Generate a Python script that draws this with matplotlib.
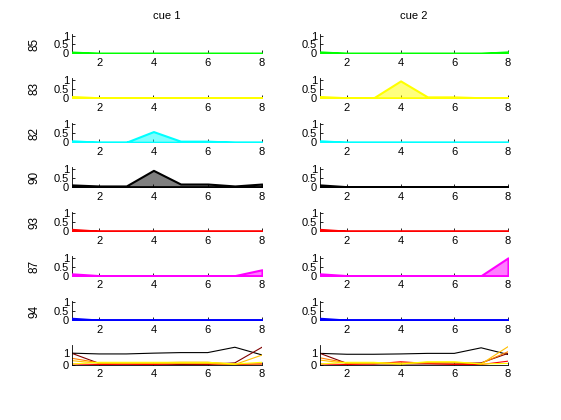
import matplotlib
matplotlib.use('Agg')
import matplotlib.pyplot as plt

plt.rcParams['font.family'] = ['Liberation Sans', 'DejaVu Sans']

# x positions shared by every panel
x = [1, 2, 3, 4, 5, 6, 7, 8]

# row labels and colours (top to bottom)
row_labels = ['85', '83', '82', '90', '93', '87', '94']
row_colors = [(0, 1, 0), (1, 1, 0), (0, 1, 1), (0, 0, 0), (1, 0, 0), (1, 0, 1), (0, 0, 1)]

# cue 1 area values per row
cue1_85 = [0.07, 0, 0, 0, 0, 0, 0, 0]
cue1_83 = [0.07, 0, 0, 0, 0, 0, 0, 0]
cue1_82 = [0.08, 0, 0, 0.6, 0.06, 0.06, 0, 0]
cue1_90 = [0.1, 0.04, 0.04, 0.92, 0.15, 0.15, 0.04, 0.15]
cue1_93 = [0.1, 0, 0, 0, 0, 0, 0, 0]
cue1_87 = [0.1, 0, 0, 0, 0, 0, 0, 0.33]
cue1_94 = [0.1, 0, 0, 0, 0, 0, 0, 0]

# cue 2 area values per row
cue2_85 = [0.08, 0, 0, 0, 0, 0, 0, 0.08]
cue2_83 = [0.07, 0, 0, 0.95, 0.05, 0.05, 0, 0]
cue2_82 = [0.08, 0, 0, 0, 0, 0, 0, 0]
cue2_90 = [0.1, 0, 0, 0, 0, 0, 0, 0]
cue2_93 = [0.1, 0, 0, 0, 0, 0, 0, 0]
cue2_87 = [0.1, 0, 0, 0, 0, 0, 0, 1.0]
cue2_94 = [0.1, 0, 0, 0, 0, 0, 0, 0]

cue1_rows = [cue1_85, cue1_83, cue1_82, cue1_90, cue1_93, cue1_87, cue1_94]
cue2_rows = [cue2_85, cue2_83, cue2_82, cue2_90, cue2_93, cue2_87, cue2_94]

# bottom row lines
mix_colors = ['black', (0.5, 0, 0), (1, 0, 0), (1, 0.5, 0), (1, 0.75, 0), (1, 1, 0)]
mix1_black = [1.02, 0.95, 0.95, 1.02, 1.07, 1.07, 1.55, 0.86]
mix1_darkred = [1.0, 0.1, 0.05, 0.05, 0.0, 0.0, 0.15, 1.55]
mix1_red = [0.05, 0.0, 0.02, 0.0, 0.08, 0.05, 0.0, 0.05]
mix1_orange = [0.56, 0.15, 0.15, 0.15, 0.2, 0.2, 0.05, 0.05]
mix1_gold = [0.35, 0.1, 0.1, 0.1, 0.1, 0.1, 0.0, 0.85]
mix1_yellow = [0.05, 0.2, 0.2, 0.2, 0.2, 0.2, 0.05, 0.2]

mix2_black = [1.0, 0.92, 0.92, 0.95, 1.0, 1.0, 1.5, 0.9]
mix2_darkred = [1.0, 0.1, 0.05, 0.05, 0.05, 0.05, 0.15, 1.0]
mix2_red = [0.05, 0.0, 0.05, 0.25, 0.1, 0.0, 0.0, 0.3]
mix2_orange = [0.6, 0.15, 0.15, 0.15, 0.15, 0.15, 0.1, 1.15]
mix2_gold = [0.4, 0.1, 0.1, 0.05, 0.2, 0.2, 0.05, 1.6]
mix2_yellow = [0.05, 0.2, 0.2, 0.05, 0.25, 0.25, 0.05, 0.1]

mix1 = [mix1_black, mix1_darkred, mix1_red, mix1_orange, mix1_gold, mix1_yellow]
mix2 = [mix2_black, mix2_darkred, mix2_red, mix2_orange, mix2_gold, mix2_yellow]

titles = ['cue 1', 'cue 2']

W, H = 561, 420
fig = plt.figure(figsize=(W / 100, H / 100), dpi=100)

columns = [(72, 262, cue1_rows, mix1), (320, 508, cue2_rows, mix2)]

for c, (left, right, rows, mix) in enumerate(columns):
    for r in range(8):
        base = 53.3 + r * 44.46
        ax = fig.add_axes([left / W, 1 - base / H, (right - left) / W, 19.5 / H])
        ax.spines['top'].set_visible(False)
        ax.spines['right'].set_visible(False)
        ax.spines['left'].set_linewidth(0.6)
        ax.spines['bottom'].set_linewidth(0.6)
        ax.set_xlim(1, 8)
        ax.set_xticks([2, 4, 6, 8])
        ax.tick_params(direction='in', length=2, width=0.6, labelsize=8)
        ax.tick_params(axis='x', pad=3.5)
        ax.tick_params(axis='y', pad=2)
        if r < 7:
            col = row_colors[r]
            ax.fill_between(x, 0, rows[r], facecolor=col + (0.5,),
                            edgecolor=col, linewidth=1.5, zorder=3)
            ax.set_ylim(0, 1.1)
            ax.set_yticks([0, 0.5, 1])
            ax.set_yticklabels(['0', '0.5', '1'])
            if c == 0:
                ax.set_ylabel(row_labels[r], fontsize=8.5)
                ax.yaxis.set_label_coords(-0.168, 0.45)
        else:
            for vals, mc in zip(mix, mix_colors):
                ax.plot(x, vals, color=mc, linewidth=0.8)
            ax.set_ylim(0, 1.75)
            ax.set_yticks([0, 1])
        if r == 0:
            ax.set_title(titles[c], fontsize=8, pad=11)

fig.savefig('out.png', dpi=100)
